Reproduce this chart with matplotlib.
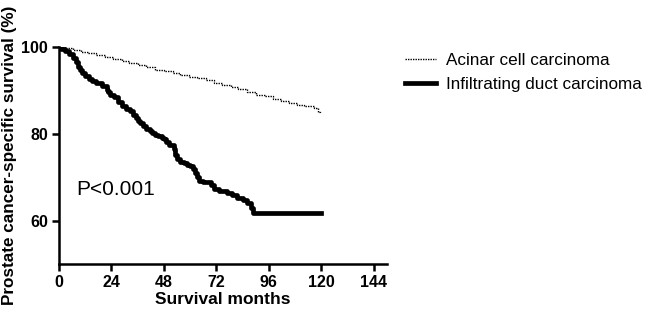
import matplotlib
matplotlib.use("Agg")
import matplotlib.pyplot as plt

plt.rcParams['font.family'] = ['Liberation Sans', 'DejaVu Sans']

# Acinar cell carcinoma (months, survival %)
acinar_t = [0, 3, 6.5, 10, 13.3, 17, 21, 24.5, 28.7, 32, 36, 40, 44, 48, 52, 55.5, 59.3, 63, 67, 71, 74.7, 78.5, 82, 86, 90,
            94, 98, 101.5, 105.3, 109, 112, 114.5, 116.5, 118.4, 119.3]
acinar_s = [100, 99.7, 99.3, 98.9, 98.6, 98.1, 97.6, 97.2, 96.7, 96.3, 95.9, 95.4, 94.8, 94.4, 94.0, 93.6, 93.2, 92.8, 92.3, 91.8,
            91.3, 90.8, 90.3, 89.6, 89.0, 88.6, 88.1, 87.6, 87.1, 86.7, 86.5, 86.3, 85.9, 85.0, 84.8]

# Infiltrating duct carcinoma (months, survival %)
duct_t = [0, 1, 2.6, 4.5, 6.4, 7.6, 8.7, 9.5, 10.3, 12, 13.5, 14.9, 17, 19.5, 21.8, 22.6, 23.3, 25, 26.8, 28.7, 30.5, 32.5,
          34, 35, 36, 37.1, 38.5, 40, 41.7, 42.5, 44, 45.5, 47.1, 47.8, 49, 50.5, 52.4, 53, 54, 55.5, 57, 58.5, 60.1,
          61.5, 62.4, 63.2, 63.9, 66, 69.3, 70.8, 73, 76.9, 79, 81.6, 84, 86.2, 87.8, 88.5, 119.6]
duct_s = [100, 99.6, 99.0, 98.3, 97.5, 96.6, 95.5, 94.8, 94.0, 93.4, 92.7, 92.1, 91.6, 90.9, 90.2, 89.6, 89.0, 88.4, 87.4,
          86.3, 85.8, 85.2, 84.4, 83.7, 83.0, 82.5, 81.8, 81.2, 80.6, 80.2, 79.8, 79.4, 79.0, 78.7, 78.2, 77.4, 76.4,
          75.2, 74.1, 73.6, 73.3, 72.9, 72.5, 71.8, 71.0, 70.0, 69.1, 68.8, 68.3, 67.2, 66.9, 66.4, 65.8, 65.3, 64.7,
          64.1, 63.0, 61.8, 61.8]

xticks = [0, 24, 48, 72, 96, 120, 144]
yticks = [60, 80, 100]

fig = plt.figure(figsize=(6.5, 3.12), dpi=100)
ax = fig.add_axes([59/650, 1-264/312, (387-59)/650, (264-47)/312])

ax.plot(acinar_t, acinar_s, drawstyle='steps-post', color='black', lw=1.0,
        linestyle=(0, (1, 0.8)), label='Acinar cell carcinoma')
ax.plot(duct_t, duct_s, drawstyle='steps-post', color='black', lw=3.4,
        label='Infiltrating duct carcinoma')

ax.set_xlim(0, 150)
ax.set_ylim(50, 100)
ax.set_xticks(xticks)
ax.set_yticks(yticks)
for sp in ['top', 'right']:
    ax.spines[sp].set_visible(False)
for sp in ['left', 'bottom']:
    ax.spines[sp].set_linewidth(1.8)
ax.tick_params(direction='out', length=5, width=1.8, labelsize=11.5, pad=3)
for lab in ax.get_xticklabels() + ax.get_yticklabels():
    lab.set_fontweight('bold')

ax.set_xlabel('Survival months', fontsize=12.5, fontweight='bold', labelpad=1)
ax.set_ylabel('Prostate cancer-specific survival (%)', fontsize=12.3, fontweight='bold', labelpad=3)

ax.text(7.7, 67.2, 'P<0.001', fontsize=15, ha='left', va='center')

leg = ax.legend(loc='upper left', bbox_to_anchor=(405/650, 1-53/312), bbox_transform=fig.transFigure,
                frameon=False, fontsize=12.3, handlelength=1.8, handletextpad=0.6, labelspacing=0.55,
                borderpad=0, borderaxespad=0)

fig.savefig('out.png', dpi=100)
